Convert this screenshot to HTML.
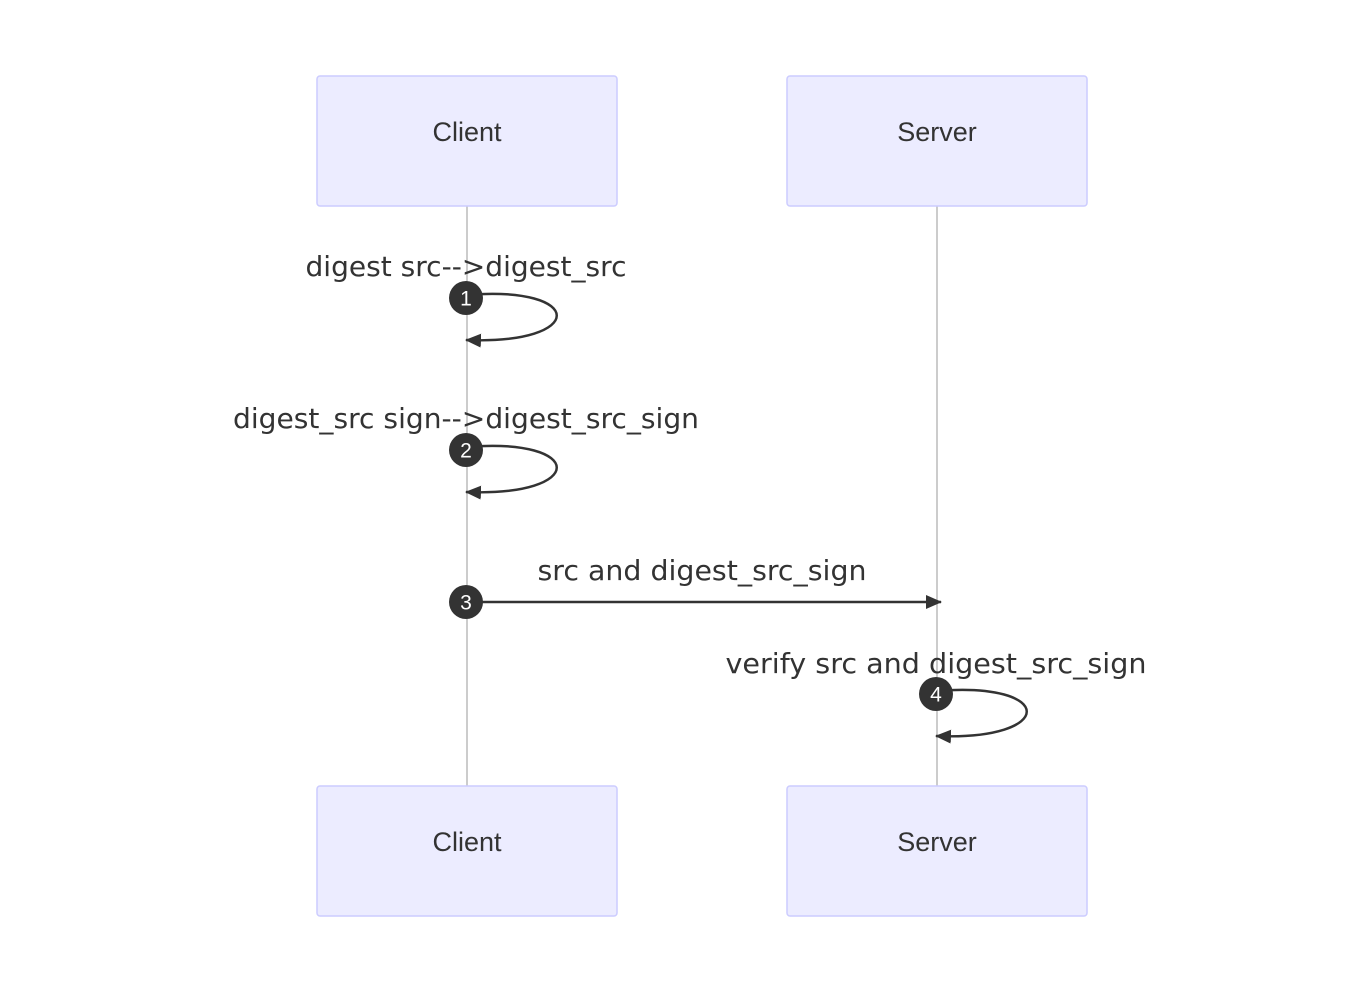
<!DOCTYPE html>
<html><head><meta charset="utf-8"><style>
html,body{margin:0;padding:0;background:#fff;}
svg{display:block;}
.actor{fill:#ECECFF;stroke:#CCCCFF;stroke-width:1.5;}
.an{font-family:"Liberation Sans",Arial,sans-serif;font-size:27px;fill:#333;}
.lbl{font-family:"DejaVu Sans",sans-serif;font-size:28px;fill:#333;}
.num{font-family:"Liberation Sans",Arial,sans-serif;font-size:21px;fill:#fff;}
</style></head><body>
<svg width="1366" height="986" viewBox="0 0 1366 986" xmlns="http://www.w3.org/2000/svg">
<defs>
<marker id="ah" markerWidth="16" markerHeight="14" refX="15" refY="7" orient="auto" markerUnits="userSpaceOnUse">
<path d="M0,0 L16,7 L0,14 z" fill="#333"/>
</marker>
</defs>
<line x1="467" y1="206" x2="467" y2="786" stroke="#bbb" stroke-width="1.5"/>
<line x1="937" y1="206" x2="937" y2="786" stroke="#bbb" stroke-width="1.5"/>
<rect class="actor" x="317" y="76" width="300" height="130" rx="3"/>
<rect class="actor" x="787" y="76" width="300" height="130" rx="3"/>
<rect class="actor" x="317" y="786" width="300" height="130" rx="3"/>
<rect class="actor" x="787" y="786" width="300" height="130" rx="3"/>
<text class="an" x="467" y="141" text-anchor="middle">Client</text>
<text class="an" x="937" y="141" text-anchor="middle">Server</text>
<text class="an" x="467" y="851" text-anchor="middle">Client</text>
<text class="an" x="937" y="851" text-anchor="middle">Server</text>

<text class="lbl" x="466" y="276" text-anchor="middle" textLength="321" lengthAdjust="spacingAndGlyphs">digest src--&gt;digest_src</text>
<path d="M466,295 C587,285 587,345 466,340" fill="none" stroke="#333" stroke-width="2.5" marker-end="url(#ah)"/>
<circle cx="466" cy="298" r="17" fill="#333"/>
<text class="num" x="466" y="305.5" text-anchor="middle">1</text>

<text class="lbl" x="466" y="428" text-anchor="middle" textLength="466" lengthAdjust="spacingAndGlyphs">digest_src sign--&gt;digest_src_sign</text>
<path d="M466,447 C587,437 587,497 466,492" fill="none" stroke="#333" stroke-width="2.5" marker-end="url(#ah)"/>
<circle cx="466" cy="450" r="17" fill="#333"/>
<text class="num" x="466" y="457.5" text-anchor="middle">2</text>

<text class="lbl" x="702" y="580" text-anchor="middle" textLength="329" lengthAdjust="spacingAndGlyphs">src and digest_src_sign</text>
<line x1="466" y1="602" x2="941" y2="602" stroke="#333" stroke-width="2.5" marker-end="url(#ah)"/>
<circle cx="466" cy="602" r="17" fill="#333"/>
<text class="num" x="466" y="609.5" text-anchor="middle">3</text>

<text class="lbl" x="936" y="673" text-anchor="middle" textLength="421" lengthAdjust="spacingAndGlyphs">verify src and digest_src_sign</text>
<path d="M936,691 C1057,681 1057,741 936,736" fill="none" stroke="#333" stroke-width="2.5" marker-end="url(#ah)"/>
<circle cx="936" cy="694" r="17" fill="#333"/>
<text class="num" x="936" y="701.5" text-anchor="middle">4</text>
</svg>
</body></html>
